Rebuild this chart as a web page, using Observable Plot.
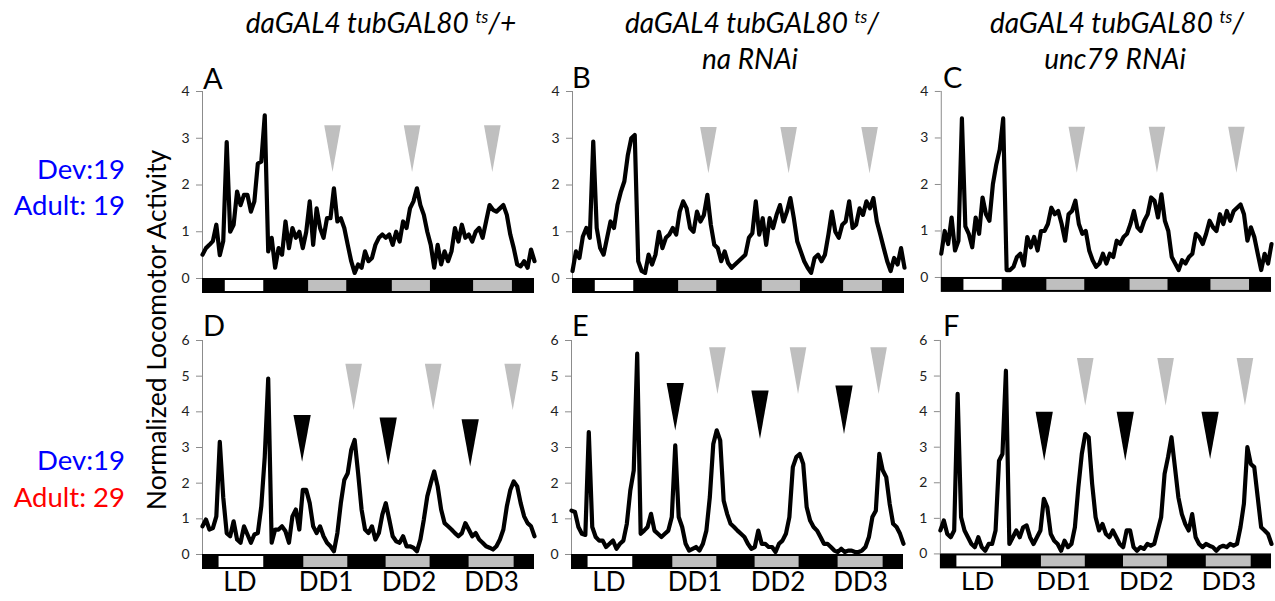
<!DOCTYPE html>
<html><head><meta charset="utf-8">
<script src="https://cdn.jsdelivr.net/npm/d3@7"></script>
<script src="https://cdn.jsdelivr.net/npm/@observablehq/plot@0.6"></script>
<style>
body{margin:0;background:#fff;}
#root{position:relative;width:1275px;height:601px;overflow:hidden;background:#fff;}
.pnl{position:absolute;}
#overlay{position:absolute;left:0;top:0;pointer-events:none;}
</style></head>
<body><div id="root"></div>
<script>
// ---------- data (normalized activity, hourly bins, 0..96 h) ----------
const binHours = 1;
const valuesA = [0.51,0.65,0.72,0.8,1.15,0.5,0.8,2.92,1.0,1.15,
 1.86,1.57,1.79,1.79,1.43,1.65,2.46,2.5,3.49,0.58,
 0.87,0.23,0.65,0.51,1.22,0.65,1.08,0.87,1.0,0.65,
 1.0,1.65,0.72,1.5,1.08,0.87,1.29,1.29,1.93,1.22,
 1.29,1.08,0.72,0.37,0.12,0.3,0.23,0.58,0.37,0.44,
 0.72,0.87,0.94,0.87,0.94,0.72,1.0,0.79,1.22,1.08,
 1.5,1.65,1.93,1.57,1.36,1.0,0.72,0.23,0.72,0.3,
 0.58,0.37,0.58,1.08,0.79,1.15,0.87,0.94,0.79,1.0,
 1.08,0.87,1.22,1.57,1.47,1.43,1.5,1.57,1.36,0.94,
 0.65,0.3,0.26,0.37,0.23,0.62,0.37];
const valuesB = [0.16,0.58,0.44,0.9,1.08,0.87,2.93,1.08,0.65,0.51,
 0.87,1.22,1.08,1.57,1.86,2.08,2.64,3.0,3.07,0.37,
 0.16,0.12,0.51,0.3,0.51,1.0,0.65,0.87,0.94,1.08,
 0.94,1.43,1.65,1.5,1.08,1.0,1.43,1.22,1.36,1.79,
 1.15,0.72,0.65,0.37,0.58,0.33,0.23,0.3,0.37,0.44,
 0.51,0.87,0.97,1.65,0.94,1.29,0.72,1.29,1.08,1.36,
 1.57,1.22,1.43,1.72,1.29,0.79,0.58,0.37,0.23,0.12,
 0.44,0.51,0.37,0.51,0.94,1.43,1.0,0.87,1.15,1.22,
 1.65,1.08,1.15,1.5,1.36,1.65,1.5,1.72,1.22,0.94,
 0.65,0.37,0.16,0.44,0.3,0.65,0.23];
const valuesC = [0.51,1.0,0.72,1.29,0.58,0.79,3.42,1.1,0.94,0.65,
 1.29,0.94,1.72,1.36,1.22,2.0,2.43,2.75,3.42,0.16,
 0.16,0.23,0.44,0.51,0.26,0.87,0.65,0.87,0.58,1.0,
 1.0,1.15,1.5,1.36,1.43,1.15,0.79,1.36,1.43,1.65,
 1.15,0.94,1.0,0.58,0.37,0.23,0.3,0.51,0.3,0.51,
 0.44,0.79,0.72,0.87,0.94,1.15,1.43,1.08,1.0,1.22,
 1.36,1.72,1.65,1.29,1.79,1.22,1.0,0.44,0.3,0.16,
 0.37,0.3,0.44,0.51,0.94,0.87,0.72,0.94,1.22,1.08,
 1.0,1.36,1.15,1.43,1.22,1.43,1.5,1.57,1.36,0.79,
 1.08,0.87,0.51,0.16,0.51,0.3,0.72];
const valuesD = [0.79,0.98,0.7,0.74,1.07,3.16,1.6,0.6,0.51,0.93,
 0.42,0.33,0.79,0.56,0.33,0.56,0.6,1.35,2.74,4.93,
 0.33,0.7,0.7,0.79,0.65,0.33,1.07,1.26,0.7,1.81,
 1.81,1.44,0.79,0.6,0.79,0.51,0.33,0.23,0.09,0.6,
 1.44,2.09,2.28,2.93,3.21,2.28,1.26,0.7,0.6,0.79,
 0.42,0.6,1.12,1.44,0.98,0.51,0.37,0.33,0.51,0.23,
 0.23,0.19,0.09,0.42,0.98,1.63,2.0,2.33,1.91,1.26,
 0.88,0.79,0.7,0.6,0.51,0.6,0.88,0.7,0.51,0.6,
 0.42,0.33,0.23,0.19,0.14,0.23,0.42,0.7,1.35,1.81,
 2.05,1.91,1.44,1.07,0.88,0.79,0.51];
const valuesE = [1.23,1.19,0.77,0.58,0.55,3.43,0.77,0.49,0.39,0.39,
 0.21,0.3,0.39,0.16,0.3,0.39,0.86,1.79,2.36,5.63,
 0.58,0.67,0.77,1.14,0.67,0.58,0.49,0.58,0.67,1.05,
 3.06,1.05,0.77,0.3,0.11,0.16,0.21,0.11,0.3,0.67,
 1.61,3.1,3.48,3.2,1.51,1.14,0.86,0.77,0.67,0.58,
 0.49,0.3,0.16,0.21,0.67,0.3,0.3,0.21,0.21,0.07,
 0.3,0.39,0.58,1.05,2.45,2.73,2.82,2.54,1.33,0.95,
 0.77,0.67,0.49,0.3,0.3,0.21,0.11,0.07,0.16,0.07,
 0.11,0.11,0.07,0.07,0.11,0.21,0.49,1.05,1.23,2.82,
 2.36,2.17,1.42,0.86,0.77,0.58,0.3];
const valuesF = [0.66,0.94,0.56,0.47,0.66,4.5,1.03,0.66,0.47,0.28,
 0.19,0.47,0.19,0.09,0.28,0.28,0.66,2.62,2.81,5.15,
 0.28,0.47,0.66,0.47,0.75,0.8,0.47,0.28,0.47,0.66,
 1.55,1.31,0.56,0.37,0.28,0.09,0.37,0.19,0.28,0.75,
 1.87,2.81,3.37,3.28,1.97,1.03,0.66,0.84,0.56,0.47,
 0.66,0.47,0.28,0.19,0.66,0.66,0.19,0.09,0.19,0.14,
 0.28,0.23,0.28,0.66,1.03,2.25,2.72,3.28,2.44,1.59,
 1.12,0.84,0.66,1.12,0.47,0.28,0.19,0.28,0.23,0.19,
 0.09,0.19,0.23,0.19,0.28,0.23,0.28,0.75,1.41,3.0,
 2.53,2.44,1.59,0.75,0.66,0.56,0.28];

// light regime bars: boundaries (h) and phase of each segment
const phaseKinds = ["dark","light","dark","subjective","dark","subjective","dark","subjective","dark"];
const boundsTop = [0, 6.3, 18, 30.4, 42, 54.6, 66.2, 78.1, 89.9, 96];
const boundsBottom = [0, 4.5, 18, 29, 42.3, 52.8, 66.1, 76.8, 90.4, 96];

// arrowheads: [hour, top value, tip value]
const grayA = [[37.6,3.28,2.28],[60.6,3.28,2.28],[83.8,3.28,2.28]];
const grayB = [[39.3,3.24,2.25],[62.5,3.24,2.25],[85.9,3.24,2.25]];
const grayC = [[39.4,3.24,2.25],[62.7,3.24,2.25],[85.8,3.24,2.25]];
const grayD = [[43.7,5.35,4.05],[66.7,5.35,4.05],[89.7,5.35,4.05]];
const blackD = [[28.8,3.91,2.6],[53.7,3.84,2.51],[77.4,3.79,2.47]];
const grayE = [[42.2,5.81,4.5],[65.5,5.81,4.5],[88.8,5.81,4.5]];
const blackE = [[30.0,4.81,3.48],[54.5,4.6,3.24],[78.8,4.74,3.38]];
const grayF = [[42.0,5.51,4.17],[65.3,5.51,4.17],[88.3,5.51,4.17]];
const blackF = [[30.1,4.0,2.62],[53.6,4.0,2.62],[78.2,4.0,2.67]];

const dayLabels = ["LD","DD1","DD2","DD3"];
const dayCenters = [10.8, 35.7, 59.7, 83.6];
const topTicks = [0,1,2,3,4];
const bottomTicks = [0,1,2,3,4,5,6];

const titles = [
  {lines:["daGAL4 tubGAL80 ", "ts", "/+"], second:null},
  {lines:["daGAL4 tubGAL80 ", "ts", "/"], second:"na RNAi"},
  {lines:["daGAL4 tubGAL80 ", "ts", "/"], second:"unc79 RNAi"}
];
const rowLabels = [["Dev:19","Adult: 19"],["Dev:19","Adult: 29"]];
const rowColors = [["#0000ff","#0000ff"],["#0000ff","#ff0000"]];
const panelLetters = ["A","B","C","D","E","F"];
const yTitle = "Normalized Locomotor Activity";

// ---------- drawing ----------
const FONT = "Lato, 'Open Sans', sans-serif";
const root = document.getElementById("root");
const FRAME_W = 332;

function triangles(list, halfW) {
  const out = [];
  list.forEach(([h, top, tip], i) => {
    out.push({id:i, x:h-halfW, y:top}, {id:i, x:h+halfW, y:top}, {id:i, x:h, y:tip});
  });
  return out;
}

function panel({values, bounds, ticks, frameLeft, frameTop, frameH, gray, black, labels}) {
  const ymax = ticks[ticks.length-1];
  const ml = 45, mr = 4, mt = 6, mb = labels ? 46 : 20;
  const unit = frameH / ymax;
  const barD = 15 / unit;
  const series = values.map((v,i) => ({h: i*binHours, v}));
  const segs = phaseKinds.map((k,i) => ({x1: bounds[i], x2: bounds[i+1], kind: k}));
  const marks = [
    Plot.ruleX([0], {y1: 0, y2: ymax, stroke: "#8c8c8c", strokeWidth: 1}),
    Plot.axisY({ticks, tickSize: 6, tickPadding: 7, stroke: "#8c8c8c", fill: "#222", fontSize: 14, tickFormat: d => d}),
    Plot.rect([{x1:0, x2:96}], {x1:"x1", x2:"x2", y1: -barD, y2: 0, fill: "#000"}),
    Plot.rect(segs.filter(s => s.kind === "light"), {x1:"x1", x2:"x2", y1: -barD, y2: 0, fill: "#fff", insetTop: 2, insetBottom: 2, insetLeft: 1, insetRight: 1}),
    Plot.rect(segs.filter(s => s.kind === "subjective"), {x1:"x1", x2:"x2", y1: -barD, y2: 0, fill: "#bfbfbf", insetTop: 2, insetBottom: 2, insetLeft: 1, insetRight: 1}),
    Plot.line(triangles(gray, 2.4), {x:"x", y:"y", z:"id", fill:"#bfbfbf", stroke: null}),
  ];
  if (black) marks.push(Plot.line(triangles(black, 2.5), {x:"x", y:"y", z:"id", fill:"#000", stroke: null}));
  marks.push(Plot.line(series, {x:"h", y:"v", stroke:"#000", strokeWidth: 4.2, strokeLinejoin:"round"}));
  if (labels) marks.push(Plot.axisX({ticks: dayCenters, tickSize: 0, tickPadding: 18, fontSize: 26, fill: "#000",
      tickFormat: (d, i) => dayLabels[i]}));
  const svg = Plot.plot({
    width: ml + FRAME_W + mr, height: mt + frameH + mb,
    marginLeft: ml, marginRight: mr, marginTop: mt, marginBottom: mb,
    x: {domain: [0, 96], axis: null},
    y: {domain: [0, ymax], axis: null},
    style: {background: "transparent", overflow: "visible", fontFamily: FONT},
    marks
  });
  const wrap = document.createElement("div");
  wrap.className = "pnl";
  wrap.style.left = (frameLeft - ml) + "px";
  wrap.style.top = (frameTop - mt) + "px";
  wrap.appendChild(svg);
  root.appendChild(wrap);
}

const TOP = {frameTop: 91, frameH: 187, bounds: boundsTop, ticks: topTicks};
const BOT = {frameTop: 340, frameH: 214, bounds: boundsBottom, ticks: bottomTicks, labels: true};
panel({...TOP, values: valuesA, frameLeft: 202, gray: grayA});
panel({...TOP, values: valuesB, frameLeft: 572, gray: grayB});
panel({...TOP, values: valuesC, frameLeft: 941, gray: grayC});
panel({...BOT, values: valuesD, frameLeft: 202, gray: grayD, black: blackD});
panel({...BOT, values: valuesE, frameLeft: 571, gray: grayE, black: blackE});
panel({...BOT, values: valuesF, frameLeft: 940, gray: grayF, black: blackF});

// ---------- text overlay ----------
const ov = d3.select(root).append("svg").attr("id","overlay")
  .attr("width",1275).attr("height",601).style("font-family", FONT);

const titleX = [381, 752, 1117];
titles.forEach((t, i) => {
  const tx = ov.append("text").attr("x", titleX[i]).attr("y", 33).attr("text-anchor","middle")
    .attr("font-style","italic").attr("font-size",28).attr("fill","#000");
  tx.append("tspan").text(t.lines[0]);
  tx.append("tspan").attr("font-size",17).attr("dy",-10).text(t.lines[1]);
  tx.append("tspan").attr("dy",10).text(t.lines[2]);
  if (t.second) ov.append("text").attr("x", titleX[i] - 2).attr("y", 69).attr("text-anchor","middle")
    .attr("font-style","italic").attr("font-size",28).attr("fill","#000").text(t.second);
});

const rowY = [[179, 215],[470, 507]];
rowLabels.forEach((pair, r) => pair.forEach((s, j) => {
  ov.append("text").attr("x",125).attr("y",rowY[r][j]).attr("text-anchor","end")
    .attr("font-size",27.5).attr("fill",rowColors[r][j]).text(s);
}));

ov.append("text").attr("transform","translate(166,330) rotate(-90)").attr("text-anchor","middle")
  .attr("font-size",26.5).attr("fill","#000").text(yTitle);

const letterPos = [[203,89],[572,88],[943,88],[203,336],[572,336],[943,336]];
panelLetters.forEach((L, i) => {
  ov.append("text").attr("x",letterPos[i][0]).attr("y",letterPos[i][1])
    .attr("font-size",29).attr("fill","#000").text(L);
});
</script>
</body></html>
